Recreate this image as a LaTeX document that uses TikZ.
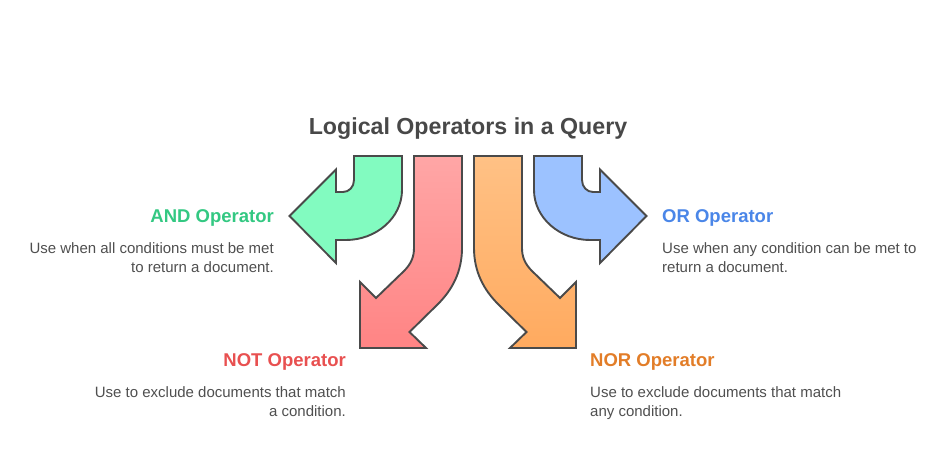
\documentclass[tikz,border=0pt]{standalone}
\usepackage{fontspec}
\setmainfont{Liberation Sans}
\definecolor{ln}{HTML}{4A4A4A}
\definecolor{ttl}{HTML}{484848}
\definecolor{body}{HTML}{4F4F4F}
\tikzset{
 arrowshape/.style={draw=ln,line width=1.9pt,line join=miter},
 head/.style={font=\bfseries\fontsize{18.5}{22}\selectfont,inner sep=0pt},
 desc/.style={font=\fontsize{15}{18.6}\selectfont,text=body,inner sep=0pt},
}
\begin{document}
\begin{tikzpicture}[x=1pt,y=-1pt]
\useasboundingbox (0,0) rectangle (948,468);
\node[font=\bfseries\fontsize{23.2}{28}\selectfont,text=ttl,inner sep=0pt] (title) at (468,128.5) {Logical Operators in a Query};
% green
\path[arrowshape,fill={rgb,255:red,130;green,251;blue,192}] (354,156) -- (402,156) -- (402,190)
 .. controls (402,218) and (376,240) .. (346,240) -- (336,240) -- (336,263) -- (289.5,216) -- (336,169.5) -- (336,192) -- (343,192)
 .. controls (349,192) and (354,187) .. (354,180) -- cycle;
% blue
\path[arrowshape,fill={rgb,255:red,156;green,194;blue,255}] (582,156) -- (534,156) -- (534,190)
 .. controls (534,218) and (560,240) .. (590,240) -- (600,240) -- (600,263) -- (646.5,216) -- (600,169.5) -- (600,192) -- (593,192)
 .. controls (587,192) and (582,187) .. (582,180) -- cycle;
% red
\path[arrowshape,top color={rgb,255:red,255;green,166;blue,166},bottom color={rgb,255:red,255;green,132;blue,132}]
 (414,156) -- (462,156) -- (462,248)
 .. controls (462,272) and (452,290) .. (438,304) -- (409.5,332) -- (426,348) -- (360,348) -- (360,282) -- (376,298) -- (404,271)
 .. controls (411,264) and (414,257) .. (414,248) -- cycle;
% orange
\path[arrowshape,top color={rgb,255:red,255;green,193;blue,133},bottom color={rgb,255:red,255;green,170;blue,95}]
 (522,156) -- (474,156) -- (474,248)
 .. controls (474,272) and (484,290) .. (498,304) -- (526.5,332) -- (510,348) -- (576,348) -- (576,282) -- (560,298) -- (532,271)
 .. controls (525,264) and (522,257) .. (522,248) -- cycle;
\node[head,anchor=east,text={rgb,255:red,51;green,200;blue,130}] (andh) at (274,218) {AND Operator};
\node[desc,anchor=north east,align=right] (andd) at (274,242.5) {Use when all conditions must be met\\to return a document.};
\node[head,anchor=west,text={rgb,255:red,74;green,134;blue,232}] (orh) at (662,218) {OR Operator};
\node[desc,anchor=north west,align=left] (ord) at (662,242.5) {Use when any condition can be met to\\return a document.};
\node[head,anchor=east,text={rgb,255:red,232;green,80;blue,80}] (noth) at (346,362) {NOT Operator};
\node[desc,anchor=north east,align=right] (notd) at (346,386.5) {Use to exclude documents that match\\a condition.};
\node[head,anchor=west,text={rgb,255:red,226;green,125;blue,40}] (norh) at (590,362) {NOR Operator};
\node[desc,anchor=north west,align=left] (nord) at (590,386.5) {Use to exclude documents that match\\any condition.};
\end{tikzpicture}
\end{document}
